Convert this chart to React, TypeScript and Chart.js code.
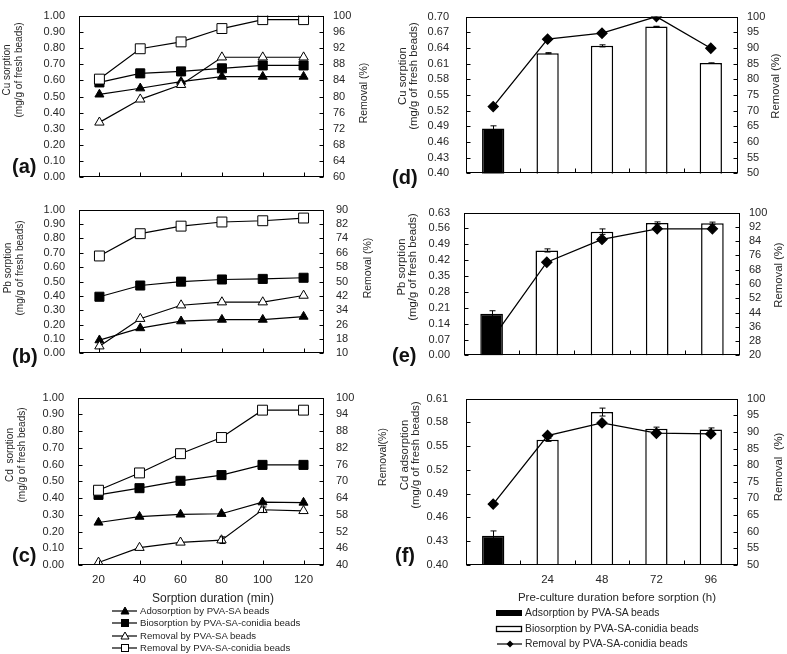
import React, { useEffect, useRef } from "react";
import { Chart, registerables } from "chart.js";

Chart.register(...registerables);

const FONT = "'Liberation Sans', Arial, Helvetica, sans-serif";
const INK = "#000";
const TEXT = "#262626";

// ---------- Left column: sorption duration (min) ----------
const durationLabels = ["20", "40", "60", "80", "100", "120"];

const cuAdsorptionPVA = [0.513, 0.551, 0.592, 0.623, 0.623, 0.623];
const cuBiosorptionConidia = [0.587, 0.643, 0.655, 0.674, 0.692, 0.692];
const cuRemovalPVA = [73.6, 79.3, 82.9, 89.7, 89.7, 89.7];
const cuRemovalConidia = [84.3, 91.8, 93.5, 96.8, 99.0, 99.0];

const pbAdsorptionPVA = [0.092, 0.176, 0.224, 0.235, 0.235, 0.256];
const pbBiosorptionConidia = [0.394, 0.472, 0.499, 0.514, 0.518, 0.526];
const pbRemovalPVA = [14.0, 29.3, 36.8, 38.5, 38.5, 42.2];
const pbRemovalConidia = [64.2, 76.6, 80.8, 83.1, 83.8, 85.3];

const cdAdsorptionPVA = [0.254, 0.289, 0.302, 0.306, 0.375, 0.373];
const cdAdsorptionPVAErr = [0, 0, 0, 0.006, 0.006, 0];
const cdBiosorptionConidia = [0.419, 0.459, 0.503, 0.537, 0.598, 0.598];
const cdRemovalPVA = [40.9, 46.2, 48.1, 48.9, 59.8, 59.4];
const cdRemovalPVAErr = [0, 0, 0, 1.2, 1.0, 0];
const cdRemovalConidia = [66.8, 73.0, 79.9, 85.7, 95.5, 95.5];

// ---------- Right column: pre-culture duration (h) ----------
const preCultureLabels = ["", "24", "48", "72", "96"];

const cuAdsPVA = [0.486, null, null, null, null];
const cuAdsPVAErr = [0.005, 0, 0, 0, 0];
const cuBioConidia = [null, 0.63, 0.644, 0.681, 0.611];
const cuBioConidiaErr = [0, 0.001, 0.002, 0.0005, 0.0005];
const cuRemConidia = [71.3, 92.8, 94.7, 100, 89.9];

const pbAdsPVA = [0.184, null, null, null, null];
const pbAdsPVAErr = [0.013, 0, 0, 0, 0];
const pbBioConidia = [null, 0.463, 0.546, 0.584, 0.583];
const pbBioConidiaErr = [0, 0.007, 0.012, 0.005, 0.005];
const pbRemConidia = [28.8, 72.2, 85.0, 90.9, 90.9];

const cdAdsPVA = [0.437, null, null, null, null];
const cdAdsPVAErr = [0.006, 0, 0, 0, 0];
const cdBioConidia = [null, 0.558, 0.593, 0.572, 0.571];
const cdBioConidiaErr = [0, 0.002, 0.005, 0.002, 0.002];
const cdRemConidia = [68.3, 88.9, 92.7, 89.6, 89.4];

type ErrSpec = { values: (number | null)[]; errs: number[]; axis: string };

function makeFramePlugin(xMode: "center" | "between", errors: ErrSpec[]) {
  return {
    id: "frameTicks",
    afterDatasetsDraw(chart: any) {
      const { ctx, chartArea: a, scales } = chart;
      const L = Math.round(a.left) + 0.5;
      const R = Math.round(a.right) - 0.5;
      const T = Math.round(a.top) + 0.5;
      const B = Math.round(a.bottom) - 0.5;
      ctx.save();
      ctx.strokeStyle = INK;
      ctx.lineWidth = 1;
      errors.forEach((spec) => {
        const ys = scales[spec.axis];
        spec.values.forEach((v, i) => {
          const e = spec.errs[i];
          if (v == null || !e) return;
          const px = Math.round(scales.x.getPixelForValue(i)) + 0.5;
          const top = ys.getPixelForValue(v + e);
          const bot = ys.getPixelForValue(v - e);
          ctx.beginPath();
          ctx.moveTo(px, top);
          ctx.lineTo(px, bot);
          ctx.moveTo(px - 3, top);
          ctx.lineTo(px + 3, top);
          ctx.moveTo(px - 3, bot);
          ctx.lineTo(px + 3, bot);
          ctx.stroke();
        });
      });
      ctx.strokeRect(L, T, R - L, B - T);
      ctx.beginPath();
      const y = scales.y;
      y.ticks.forEach((_: any, i: number) => {
        const p = Math.round(y.getPixelForTick(i)) + 0.5;
        ctx.moveTo(L, p);
        ctx.lineTo(L + 4, p);
      });
      const y1 = scales.y1;
      y1.ticks.forEach((_: any, i: number) => {
        const p = Math.round(y1.getPixelForTick(i)) + 0.5;
        ctx.moveTo(R, p);
        ctx.lineTo(R - 4, p);
      });
      const x = scales.x;
      const n = x.ticks.length;
      if (xMode === "center") {
        for (let i = 0; i < n; i++) {
          const p = Math.round(x.getPixelForTick(i)) + 0.5;
          ctx.moveTo(p, B);
          ctx.lineTo(p, B - 4);
        }
      } else {
        for (let i = 1; i < n; i++) {
          const p = Math.round((x.getPixelForTick(i - 1) + x.getPixelForTick(i)) / 2) + 0.5;
          ctx.moveTo(p, B);
          ctx.lineTo(p, B - 4);
        }
      }
      ctx.stroke();
      ctx.restore();
    },
  };
}

type Geo = { colX: number; colW: number; L: number; T: number; R: number; B: number; xh: number };

function scalesFor(
  g: Geo,
  opt: {
    labels: string[];
    showX: boolean;
    yMin: number; yMax: number; yStep: number;
    y1Min: number; y1Max: number; y1Step: number;
    yPad: number; y1Pad: number; tickSize: number;
  }
) {
  const tickFont = { family: FONT, size: opt.tickSize };
  const yW = g.L - g.colX;
  const y1W = g.colX + g.colW - g.R;
  return {
    x: {
      type: "category",
      offset: true,
      grid: { display: false, drawTicks: false },
      border: { display: false },
      ticks: { display: opt.showX, font: { family: FONT, size: 11.5 }, color: TEXT, padding: 8, maxRotation: 0, autoSkip: false },
      afterFit: (s: any) => { s.height = g.xh; },
    },
    y: {
      position: "left",
      min: opt.yMin, max: opt.yMax,
      grid: { display: false, drawTicks: false },
      border: { display: false },
      ticks: { stepSize: opt.yStep, autoSkip: false, font: tickFont, color: TEXT, padding: opt.yPad, callback: (v: any) => Number(v).toFixed(2) },
      afterFit: (s: any) => { s.width = yW; },
    },
    y1: {
      position: "right",
      min: opt.y1Min, max: opt.y1Max,
      grid: { display: false, drawTicks: false },
      border: { display: false },
      ticks: { stepSize: opt.y1Step, autoSkip: false, font: tickFont, color: TEXT, padding: opt.y1Pad, callback: (v: any) => String(Math.round(Number(v))) },
      afterFit: (s: any) => { s.width = y1W; },
    },
  };
}

const baseOptions = {
  responsive: false,
  animation: false,
  devicePixelRatio: 1,
  events: [] as string[],
  layout: { padding: { top: 14, left: 0, right: 0, bottom: 0 } },
  plugins: { legend: { display: false }, tooltip: { enabled: false } },
};

function lineDs(label: string, data: number[], axis: string, style: string, fill: string, radius: number) {
  return {
    type: "line",
    label,
    data,
    yAxisID: axis,
    borderColor: INK,
    borderWidth: 1.2,
    pointStyle: style,
    pointRadius: radius,
    pointHoverRadius: radius,
    pointBackgroundColor: fill,
    pointBorderColor: INK,
    pointBorderWidth: 1,
    tension: 0,
    fill: false,
  };
}

function leftConfig(g: Geo, d: {
  ads: number[]; bio: number[]; remPVA: number[]; remCon: number[];
  y1Min: number; y1Max: number; y1Step: number; y1Pad: number; showX: boolean; errors: ErrSpec[];
}) {
  return {
    type: "line",
    data: {
      labels: durationLabels,
      datasets: [
        lineDs("Removal by PVA-SA-conidia beads", d.remCon, "y1", "rect", "#fff", 7),
        lineDs("Removal by PVA-SA beads", d.remPVA, "y1", "triangle", "#fff", 5.4),
        lineDs("Biosorption by PVA-SA-conidia beads", d.bio, "y", "rect", INK, 6.4),
        lineDs("Adosorption by PVA-SA beads", d.ads, "y", "triangle", INK, 5.2),
      ],
    },
    options: {
      ...baseOptions,
      scales: scalesFor(g, {
        labels: durationLabels, showX: d.showX,
        yMin: 0, yMax: 1, yStep: 0.1,
        y1Min: d.y1Min, y1Max: d.y1Max, y1Step: d.y1Step,
        yPad: 14, y1Pad: d.y1Pad, tickSize: 11,
      }),
    },
    plugins: [makeFramePlugin("center", d.errors)],
  };
}

function rightConfig(g: Geo, d: {
  ads: (number | null)[]; adsErr: number[]; bio: (number | null)[]; bioErr: number[]; rem: number[];
  yMin: number; yMax: number; yStep: number; y1Min: number; y1Max: number; y1Step: number; showX: boolean; yPad: number;
}) {
  return {
    type: "bar",
    data: {
      labels: preCultureLabels,
      datasets: [
        {
          type: "line", label: "Removal by PVA-SA-conidia beads", data: d.rem, yAxisID: "y1", order: 1,
          borderColor: INK, borderWidth: 1.3, pointStyle: "rectRot", pointRadius: 5, pointHoverRadius: 5,
          pointBackgroundColor: INK, pointBorderColor: INK, tension: 0, fill: false,
        },
        {
          type: "bar", label: "Adsorption by PVA-SA beads", data: d.ads, yAxisID: "y", order: 2,
          backgroundColor: INK, borderColor: INK, borderWidth: 1.5, grouped: false, barPercentage: 0.41, categoryPercentage: 1,
        },
        {
          type: "bar", label: "Biosorption by PVA-SA-conidia beads", data: d.bio, yAxisID: "y", order: 2,
          backgroundColor: "#fff", borderColor: INK, borderWidth: 1.5, grouped: false, barPercentage: 0.41, categoryPercentage: 1,
        },
      ],
    },
    options: {
      ...baseOptions,
      scales: scalesFor(g, {
        labels: preCultureLabels, showX: d.showX,
        yMin: d.yMin, yMax: d.yMax, yStep: d.yStep,
        y1Min: d.y1Min, y1Max: d.y1Max, y1Step: d.y1Step,
        yPad: d.yPad, y1Pad: 9, tickSize: 11,
      }),
    },
    plugins: [makeFramePlugin("between", [
      { values: d.ads, errs: d.adsErr, axis: "y" },
      { values: d.bio, errs: d.bioErr, axis: "y" },
    ])],
  };
}

function Panel({ g, make }: { g: Geo; make: () => any }) {
  const ref = useRef<HTMLCanvasElement | null>(null);
  const top = g.T - 14;
  const height = g.B - top + g.xh;
  useEffect(() => {
    const chart = new Chart(ref.current as HTMLCanvasElement, make());
    return () => chart.destroy();
  }, []);
  return (
    <div style={{ position: "absolute", left: g.colX, top, width: g.colW, height }}>
      <canvas ref={ref} width={g.colW} height={height} style={{ display: "block", width: g.colW, height }} />
    </div>
  );
}

function VTitle({ cx, cy, lines, size, lh }: { cx: number; cy: number; lines: string[]; size: number; lh: number }) {
  return (
    <div style={{
      position: "absolute", left: cx, top: cy, transform: "translate(-50%,-50%) rotate(-90deg)",
      whiteSpace: "pre", textAlign: "center", fontSize: size, lineHeight: lh + "px", color: TEXT,
    }}>
      {lines.map((l) => <div key={l}>{l}</div>)}
    </div>
  );
}

function HText({ x, cy, text, size, bold, center }: { x: number; cy: number; text: string; size: number; bold?: boolean; center?: boolean }) {
  return (
    <div style={{
      position: "absolute", left: x, top: cy, transform: center ? "translate(-50%,-50%)" : "translate(0,-50%)",
      whiteSpace: "pre", fontSize: size, fontWeight: bold ? 700 : 400, lineHeight: 1, color: bold ? "#111" : TEXT,
    }}>{text}</div>
  );
}

const gA: Geo = { colX: 0, colW: 390, L: 79, T: 9, R: 324, B: 186, xh: 12 };
const gB: Geo = { colX: 0, colW: 390, L: 79, T: 203, R: 324, B: 362, xh: 12 };
const gC: Geo = { colX: 0, colW: 390, L: 78, T: 391, R: 324, B: 565, xh: 40 };
const gD: Geo = { colX: 390, colW: 397, L: 466, T: 7, R: 738, B: 185, xh: 12 };
const gE: Geo = { colX: 390, colW: 397, L: 464, T: 206, R: 740, B: 364, xh: 12 };
const gF: Geo = { colX: 390, colW: 397, L: 466, T: 388, R: 738, B: 565, xh: 40 };

const leftLegend = [
  { label: "Adosorption by PVA-SA beads", shape: "tri", fill: INK },
  { label: "Biosorption by PVA-SA-conidia beads", shape: "sq", fill: INK },
  { label: "Removal by PVA-SA beads", shape: "tri", fill: "#fff" },
  { label: "Removal by PVA-SA-conidia beads", shape: "sq", fill: "#fff" },
];
const leftLegendY = [611, 623, 636, 648];

const rightLegend = [
  { label: "Adsorption by PVA-SA beads", kind: "barBlack" },
  { label: "Biosorption by PVA-SA-conidia beads", kind: "barWhite" },
  { label: "Removal by PVA-SA-conidia beads", kind: "line" },
];
const rightLegendY = [613, 629, 644];

export default function App() {
  return (
    <div style={{ position: "absolute", left: 0, top: 0, width: 787, height: 654, background: "#fff", fontFamily: FONT, overflow: "hidden" }}>
      <Panel g={gA} make={() => leftConfig(gA, { ads: cuAdsorptionPVA, bio: cuBiosorptionConidia, remPVA: cuRemovalPVA, remCon: cuRemovalConidia, y1Min: 60, y1Max: 100, y1Step: 4, y1Pad: 9, showX: false, errors: [] })} />
      <Panel g={gB} make={() => leftConfig(gB, { ads: pbAdsorptionPVA, bio: pbBiosorptionConidia, remPVA: pbRemovalPVA, remCon: pbRemovalConidia, y1Min: 10, y1Max: 90, y1Step: 8, y1Pad: 12, showX: false, errors: [] })} />
      <Panel g={gC} make={() => leftConfig(gC, {
        ads: cdAdsorptionPVA, bio: cdBiosorptionConidia, remPVA: cdRemovalPVA, remCon: cdRemovalConidia, y1Min: 40, y1Max: 100, y1Step: 6, y1Pad: 12, showX: true,
        errors: [{ values: cdAdsorptionPVA, errs: cdAdsorptionPVAErr, axis: "y" }, { values: cdRemovalPVA, errs: cdRemovalPVAErr, axis: "y1" }],
      })} />
      <Panel g={gD} make={() => rightConfig(gD, { ads: cuAdsPVA, adsErr: cuAdsPVAErr, bio: cuBioConidia, bioErr: cuBioConidiaErr, rem: cuRemConidia, yMin: 0.4, yMax: 0.7, yStep: 0.03, y1Min: 50, y1Max: 100, y1Step: 5, showX: false, yPad: 17 })} />
      <Panel g={gE} make={() => rightConfig(gE, { ads: pbAdsPVA, adsErr: pbAdsPVAErr, bio: pbBioConidia, bioErr: pbBioConidiaErr, rem: pbRemConidia, yMin: 0, yMax: 0.63, yStep: 0.07, y1Min: 20, y1Max: 100, y1Step: 8, showX: false, yPad: 14 })} />
      <Panel g={gF} make={() => rightConfig(gF, { ads: cdAdsPVA, adsErr: cdAdsPVAErr, bio: cdBioConidia, bioErr: cdBioConidiaErr, rem: cdRemConidia, yMin: 0.4, yMax: 0.61, yStep: 0.03, y1Min: 50, y1Max: 100, y1Step: 5, showX: true, yPad: 18 })} />

      {/* axis titles, left column */}
      <VTitle cx={13} cy={70} lines={["Cu sorption", "(mg/g of fresh beads)"]} size={10} lh={12} />
      <VTitle cx={14} cy={268} lines={["Pb sorption", "(mg/g of fresh beads)"]} size={10} lh={12} />
      <VTitle cx={16} cy={455} lines={["Cd  sorption", "(mg/g of fresh beads)"]} size={10} lh={12} />
      <VTitle cx={363} cy={93} lines={["Removal (%)"]} size={10.5} lh={12} />
      <VTitle cx={367} cy={268} lines={["Removal (%)"]} size={10.5} lh={12} />
      <VTitle cx={382} cy={457} lines={["Removal(%)"]} size={10.5} lh={12} />

      {/* axis titles, right column */}
      <VTitle cx={408} cy={76} lines={["Cu sorption", "(mg/g of fresh beads)"]} size={11.3} lh={11} />
      <VTitle cx={407} cy={267} lines={["Pb sorption", "(mg/g of fresh beads)"]} size={11.3} lh={11} />
      <VTitle cx={410} cy={455} lines={["Cd adsorption", "(mg/g of fresh beads)"]} size={11.3} lh={11} />
      <VTitle cx={775} cy={86} lines={["Removal (%)"]} size={11.3} lh={12} />
      <VTitle cx={778} cy={275} lines={["Removal (%)"]} size={11.3} lh={12} />
      <VTitle cx={778} cy={467} lines={["Removal  (%)"]} size={11.3} lh={12} />

      {/* panel letters */}
      <HText x={12} cy={166} text="(a)" size={20} bold />
      <HText x={12} cy={356} text="(b)" size={20} bold />
      <HText x={12} cy={555} text="(c)" size={20} bold />
      <HText x={392} cy={177} text="(d)" size={20} bold />
      <HText x={392} cy={355} text="(e)" size={20} bold />
      <HText x={395} cy={555} text="(f)" size={20} bold />

      {/* x titles */}
      <HText x={213} cy={598} text="Sorption duration (min)" size={12} center />
      <HText x={617} cy={598} text="Pre-culture duration before sorption (h)" size={11.5} center />

      {/* left legend */}
      {leftLegend.map((it, i) => {
        const cy = leftLegendY[i];
        return (
          <React.Fragment key={it.label}>
            <svg style={{ position: "absolute", left: 110, top: cy - 6 }} width={30} height={12}>
              <line x1={2} y1={6} x2={27} y2={6} stroke={INK} strokeWidth={1.2} />
              {it.shape === "tri" ? (
                <polygon points="15,2 19,9 11,9" fill={it.fill} stroke={INK} strokeWidth={1} />
              ) : (
                <rect x={11.5} y={2.5} width={7} height={7} fill={it.fill} stroke={INK} strokeWidth={1} />
              )}
            </svg>
            <HText x={140} cy={cy} text={it.label} size={9.6} />
          </React.Fragment>
        );
      })}

      {/* right legend */}
      {rightLegend.map((it, i) => {
        const cy = rightLegendY[i];
        return (
          <React.Fragment key={it.label}>
            <svg style={{ position: "absolute", left: 495, top: cy - 6 }} width={29} height={12}>
              {it.kind === "barBlack" && <rect x={1} y={3} width={26} height={6} fill={INK} />}
              {it.kind === "barWhite" && <rect x={1.5} y={3.5} width={25} height={5} fill="#fff" stroke={INK} strokeWidth={1.3} />}
              {it.kind === "line" && (
                <>
                  <line x1={2} y1={6} x2={27} y2={6} stroke={INK} strokeWidth={1.2} />
                  <polygon points="15,2.5 18.5,6 15,9.5 11.5,6" fill={INK} />
                </>
              )}
            </svg>
            <HText x={525} cy={cy} text={it.label} size={10.4} />
          </React.Fragment>
        );
      })}
    </div>
  );
}
